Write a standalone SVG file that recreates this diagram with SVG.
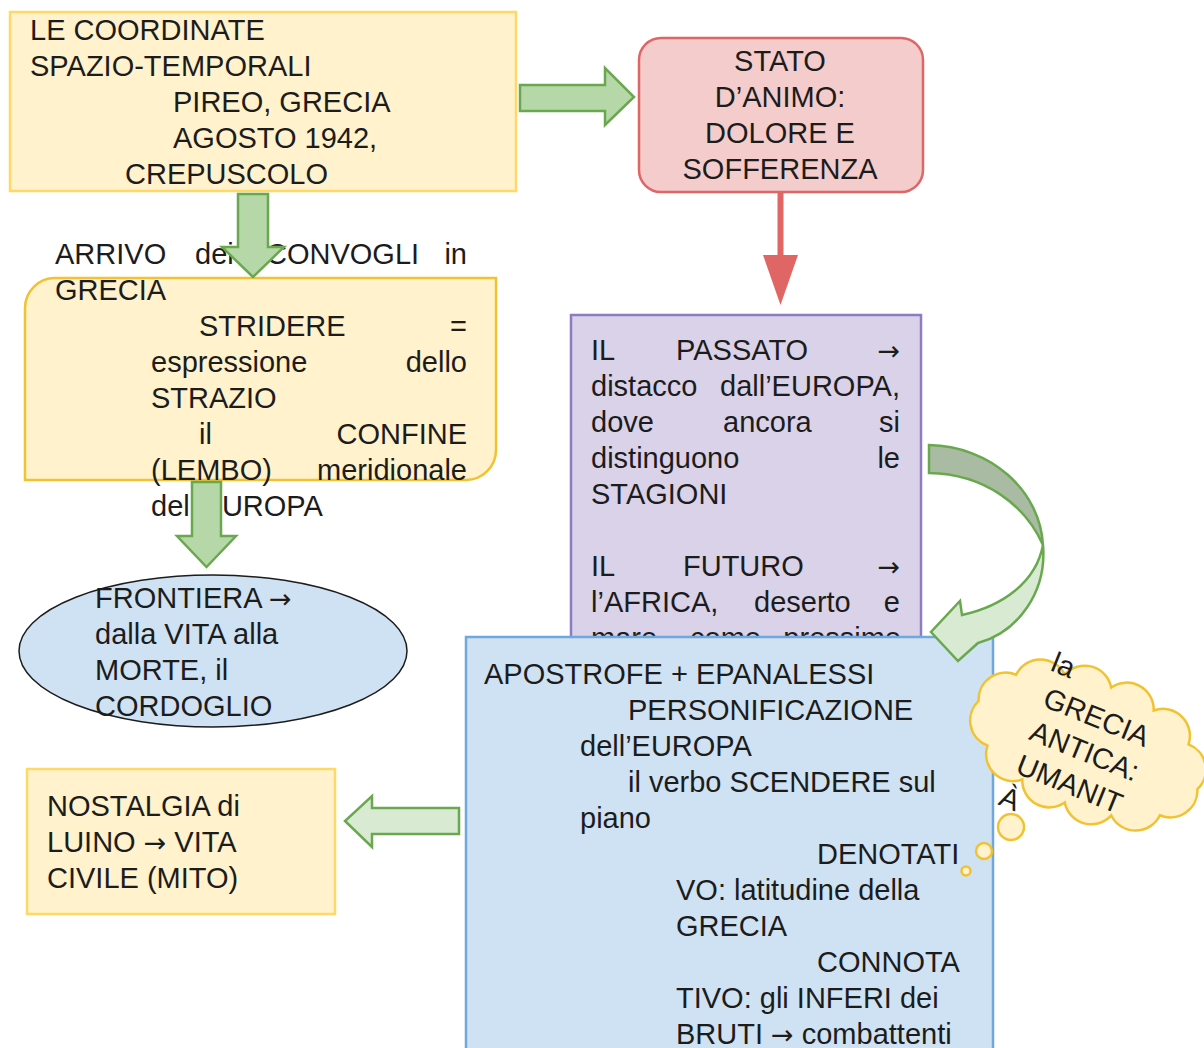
<svg xmlns="http://www.w3.org/2000/svg" width="1204" height="1048" viewBox="0 0 1204 1048">
  <style>
    text { font-family: "Liberation Sans", Arial, sans-serif; font-size: 29px; fill: #1c1c1c; }
    .ar { font-family: "DejaVu Sans", sans-serif; font-size: 27px; }
    .r { text-anchor: end; }
    .m { text-anchor: middle; }
    .yellow { fill: #fff2cc; stroke: #ffd966; stroke-width: 2.5; }
    .gold { fill: #fff2cc; stroke: #f1c232; stroke-width: 2.5; }
    .red { fill: #f4cccc; stroke: #e06666; stroke-width: 2.5; }
    .purple { fill: #d9d2e9; stroke: #8e7cc3; stroke-width: 2.5; }
    .blue { fill: #cfe2f3; stroke: #6fa8dc; stroke-width: 2.5; }
    .oval { fill: #cfe2f3; stroke: #1c1c1c; stroke-width: 1.5; }
    .garrow { fill: #b6d7a8; stroke: #6aa84f; stroke-width: 2.5; }
    .garrow-lt { fill: #d9ead3; stroke: #6aa84f; stroke-width: 2.5; }
    .garrow-dk { fill: #a9bba3; stroke: #6aa84f; stroke-width: 2.5; }
  </style>

  <!-- Space-time coordinates -->
  <g id="coordinate">
    <rect class="yellow" x="10" y="12" width="506" height="179"/>
    <text x="30" y="40">LE COORDINATE</text>
    <text x="30" y="76">SPAZIO-TEMPORALI</text>
    <text x="173" y="112">PIREO, GRECIA</text>
    <text x="173" y="148">AGOSTO 1942,</text>
    <text x="125" y="184">CREPUSCOLO</text>
  </g>

  <!-- State of mind -->
  <g id="stato-animo">
    <rect class="red" x="639" y="38" width="284" height="154" rx="22"/>
    <text class="m" x="780" y="71">STATO</text>
    <text class="m" x="780" y="107">D’ANIMO:</text>
    <text class="m" x="780" y="143">DOLORE E</text>
    <text class="m" x="780" y="179">SOFFERENZA</text>
  </g>

  <!-- Arrival of the convoys -->
  <g id="convogli">
    <path class="gold" d="M25,308 A30,30 0 0 1 55,278 H496 V450 A30,30 0 0 1 466,480 H25 Z"/>
    <text x="55" y="264">ARRIVO</text>
    <text x="195" y="264">dei</text>
    <text x="266" y="264">CONVOGLI</text>
    <text class="r" x="467" y="264">in</text>
    <text x="55" y="300">GRECIA</text>
    <text x="199" y="336">STRIDERE</text>
    <text class="r" x="467" y="336">=</text>
    <text x="151" y="372">espressione</text>
    <text class="r" x="467" y="372">dello</text>
    <text x="151" y="408">STRAZIO</text>
    <text x="199" y="444">il</text>
    <text class="r" x="467" y="444">CONFINE</text>
    <text x="151" y="480">(LEMBO)</text>
    <text class="r" x="467" y="480">meridionale</text>
    <text x="151" y="516">dell’EUROPA</text>
  </g>

  <!-- Frontier -->
  <g id="frontiera">
    <ellipse class="oval" cx="213" cy="651" rx="194" ry="76"/>
    <text x="95" y="608">FRONTIERA <tspan class="ar">→</tspan></text>
    <text x="95" y="644">dalla VITA alla</text>
    <text x="95" y="680">MORTE, il</text>
    <text x="95" y="716">CORDOGLIO</text>
  </g>

  <!-- Nostalgia -->
  <g id="nostalgia">
    <rect class="yellow" x="27" y="769" width="308" height="145"/>
    <text x="47" y="816">NOSTALGIA di</text>
    <text x="47" y="852">LUINO <tspan class="ar">→</tspan> VITA</text>
    <text x="47" y="888">CIVILE (MITO)</text>
  </g>

  <!-- Past and future -->
  <g id="passato-futuro">
    <rect class="purple" x="571" y="315" width="350" height="340"/>
    <text x="591" y="360">IL</text>
    <text x="676" y="360">PASSATO</text>
    <text class="r ar" x="900" y="360">→</text>
    <text x="591" y="396">distacco</text>
    <text class="r" x="900" y="396">dall’EUROPA,</text>
    <text x="591" y="432">dove</text>
    <text x="723" y="432">ancora</text>
    <text class="r" x="900" y="432">si</text>
    <text x="591" y="468">distinguono</text>
    <text class="r" x="900" y="468">le</text>
    <text x="591" y="504">STAGIONI</text>
    <text x="591" y="576">IL</text>
    <text x="683" y="576">FUTURO</text>
    <text class="r ar" x="900" y="576">→</text>
    <text x="591" y="612">l’AFRICA,</text>
    <text x="754" y="612">deserto</text>
    <text class="r" x="900" y="612">e</text>
    <text x="591" y="648">mare</text>
    <text x="690" y="648">come</text>
    <text class="r" x="901" y="648">prossime</text>
  </g>

  <!-- Rhetorical figures -->
  <g id="figure-retoriche">
    <rect class="blue" x="466" y="637" width="527" height="430"/>
    <text x="484" y="684">APOSTROFE + EPANALESSI</text>
    <text x="628" y="720">PERSONIFICAZIONE</text>
    <text x="580" y="756">dell’EUROPA</text>
    <text x="628" y="792">il verbo SCENDERE sul</text>
    <text x="580" y="828">piano</text>
    <text x="817" y="864">DENOTATI</text>
    <text x="676" y="900">VO: latitudine della</text>
    <text x="676" y="936">GRECIA</text>
    <text x="817" y="972">CONNOTA</text>
    <text x="676" y="1008">TIVO: gli INFERI dei</text>
    <text x="676" y="1044">BRUTI <tspan class="ar">→</tspan> combattenti</text>
  </g>

  <!-- Connectors -->
  <g id="connectors">
    <path class="garrow" d="M520,85 H605 V68 L634,97 L605,125 V111 H520 Z"/>
    <g id="stato-to-passato">
      <line x1="780.5" y1="192" x2="780.5" y2="258" stroke="#e06666" stroke-width="6"/>
      <polygon points="763,255 798,255 780.5,305" fill="#e06666"/>
    </g>
    <path class="garrow" d="M238,194 H268 V247 H284 L253,277 L222,247 H238 Z"/>
    <path class="garrow" d="M192,482 H221 V536 H236 L206.5,567 L177,536 H192 Z"/>
    <path class="garrow-lt" d="M459,808 H372 V796 L345,821 L372,847 V834 H459 Z"/>
    <g id="passato-to-figure">
      <path class="garrow-dk" d="M929,445 C990,446 1040,490 1043,545 C1025,505 985,474 929,473 Z"/>
      <path class="garrow-lt" d="M1043,545 C1047,592 1018,632 978,643 L958,661 L931,632 L960,601 L962,615 C1003,606 1036,582 1043,545 Z"/>
    </g>
  </g>

  <!-- Thought cloud: ancient Greece -->
  <g id="grecia-antica">
    <circle class="gold" cx="966" cy="871" r="4.5"/>
    <circle class="gold" cx="984" cy="851" r="8"/>
    <circle class="gold" cx="1011" cy="827" r="13"/>
    <g transform="translate(1088,745) rotate(22)">
      <path class="gold" d="M118,0 A27,27 0 0 1 93,38.2 A27,27 0 0 1 48,56.6 A27,27 0 0 1 0,62 A27,27 0 0 1 -48,56.6 A27,27 0 0 1 -93,38.2 A27,27 0 0 1 -118,0 A27,27 0 0 1 -93,-38.2 A27,27 0 0 1 -48,-56.6 A27,27 0 0 1 0,-62 A27,27 0 0 1 48,-56.6 A27,27 0 0 1 93,-38.2 A27,27 0 0 1 118,0 Z"/>
      <text x="-64" y="-55">la</text>
      <text x="-58" y="-19">GRECIA</text>
      <text x="-58" y="17">ANTICA:</text>
      <text x="-58" y="53">UMANIT</text>
      <text x="-62" y="89">À</text>
    </g>
  </g>
</svg>
